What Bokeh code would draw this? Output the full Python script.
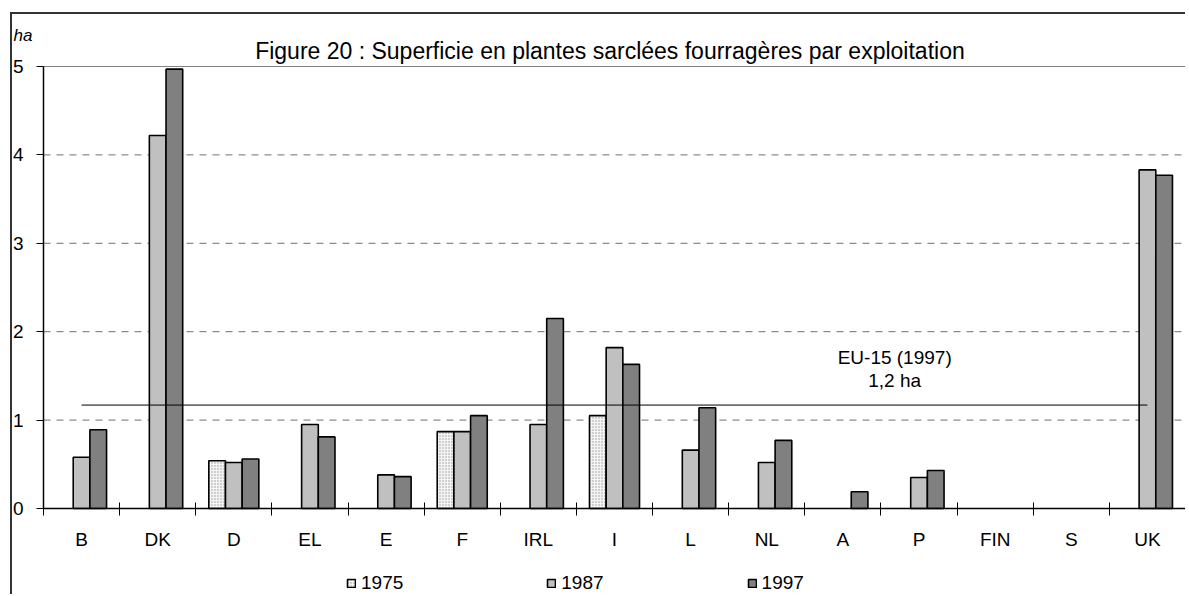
import numpy as np
from bokeh.plotting import figure
from bokeh.models import (FixedTicker, CustomJSTickFormatter, Legend, LegendItem,
                          Label, ColumnDataSource, Range1d)
from bokeh.core.properties import value
from bokeh.embed import file_html
from bokeh.resources import INLINE

categories = ["B", "DK", "D", "EL", "E", "F", "IRL", "I", "L", "NL", "A", "P", "FIN", "S", "UK"]
v1975 = [None, None, 0.54, None, None, 0.87, None, 1.05, None, None, None, None, None, None, None]
v1987 = [0.58, 4.22, 0.52, 0.95, 0.38, 0.87, 0.95, 1.82, 0.66, 0.52, None, 0.35, None, None, 3.83]
v1997 = [0.89, 4.97, 0.56, 0.81, 0.36, 1.05, 2.15, 1.63, 1.14, 0.77, 0.19, 0.43, None, None, 3.77]
series_names = ["1975", "1987", "1997"]
eu_value = 1.17
eu_label = ["EU-15 (1997)", "1,2 ha"]
y_ticks = [0, 1, 2, 3, 4, 5]
unit_label = "ha"
title_text = "Figure 20 : Superficie en plantes sarclées fourragères par exploitation"

FONT = "Liberation Sans"
FS = "19px"
BW = 0.219
N = len(categories)
YMAX = y_ticks[-1]

# the whole canvas is the plot frame; axes are pinned at 0 so that the title,
# unit label and legend can sit inside the frame
p = figure(width=1175, height=582, output_backend="svg", toolbar_location=None, title=None,
           x_range=Range1d(-0.407, N + 0.026), y_range=Range1d(-0.9955, YMAX + 0.588),
           min_border=0, min_border_left=0, min_border_right=0, min_border_top=0, min_border_bottom=0,
           background_fill_color="white", border_fill_color="white",
           outline_line_color=None,
           styles={"border-left": "2px solid #333", "border-top": "2px solid #333",
                   "margin-left": "10px", "margin-top": "12px"})

p.xgrid.grid_line_color = None
p.ygrid.grid_line_color = None

# dashed horizontal grid lines, limited to the plotting area
grid_y = y_ticks[1:-1]
p.segment(x0=[0] * len(grid_y), x1=[N] * len(grid_y), y0=grid_y, y1=grid_y,
          line_color="#707070", line_dash="7 6", line_width=1)
# plot-area border: top and right
p.segment(x0=[0, N], x1=[N, N], y0=[YMAX, 0], y1=[YMAX, YMAX],
          line_color="#808080", line_width=1)

# axes
p.xaxis.fixed_location = 0
p.xaxis.bounds = (0, N)
p.xaxis.ticker = FixedTicker(ticks=[i + 0.5 for i in range(N)], minor_ticks=list(range(N + 1)))
p.xaxis.formatter = CustomJSTickFormatter(args=dict(cats=categories),
                                          code="const c = cats[Math.floor(tick)]; return c ? c : '';")
p.xaxis.major_tick_in = 0
p.xaxis.major_tick_out = 0
p.xaxis.minor_tick_in = 6
p.xaxis.minor_tick_out = 7
p.xaxis.minor_tick_line_color = "black"
p.xaxis.axis_line_color = "black"
p.xaxis.axis_line_width = 1.5
p.xaxis.major_label_standoff = 14
p.xaxis.major_label_text_font = FONT
p.xaxis.major_label_text_font_size = FS
p.xaxis.major_label_text_color = "black"

p.yaxis.fixed_location = 0
p.yaxis.bounds = (0, YMAX)
p.yaxis.ticker = FixedTicker(ticks=y_ticks)
p.yaxis.major_tick_in = 0
p.yaxis.major_tick_out = 7
p.yaxis.minor_tick_line_color = None
p.yaxis.major_tick_line_color = "black"
p.yaxis.axis_line_color = "black"
p.yaxis.axis_line_width = 1.5
p.yaxis.major_label_standoff = 13
p.yaxis.major_label_text_font = FONT
p.yaxis.major_label_text_font_size = FS
p.yaxis.major_label_text_color = "black"

xs = np.arange(N) + 0.5
styles = [
    dict(fill_color="#f4f4f4", hatch_pattern=".", hatch_color="#9a9a9a", hatch_scale=3, hatch_weight=1),
    dict(fill_color="#c0c0c0"),
    dict(fill_color="#808080"),
]
renderers = []
for k, (vals, off) in enumerate(zip([v1975, v1987, v1997], [-BW, 0.0, BW])):
    xx = [x + off for x, v in zip(xs, vals) if v is not None]
    tt = [v for v in vals if v is not None]
    src = ColumnDataSource(dict(x=xx, top=tt))
    r = p.vbar(x="x", top="top", bottom=0, width=BW, source=src,
               line_color="black", line_width=1.6, **styles[k])
    renderers.append(r)

# EU-15 average line from first to last category centre
p.line(x=[xs[0], xs[-1]], y=[eu_value, eu_value], line_color="black", line_width=1)
p.text(x=[11.18, 11.18], y=[eu_value + 0.54, eu_value + 0.28], text=eu_label,
       text_font=value(FONT), text_font_size=FS, text_align="center",
       text_baseline="middle", text_color="black")

# title and unit label
p.add_layout(Label(x=7.44, y=YMAX + 0.17, text=title_text, text_align="center",
                   text_baseline="alphabetic", text_font=FONT, text_font_size="23px",
                   text_color="black"))
p.add_layout(Label(x=-0.394, y=YMAX + 0.35, text=unit_label, text_align="left",
                   text_baseline="alphabetic", text_font=FONT, text_font_size="17px",
                   text_font_style="italic", text_color="black"))

legend = Legend(items=[LegendItem(label=n, renderers=[r]) for n, r in zip(series_names, renderers)],
                orientation="horizontal", location=(334, 2),
                glyph_width=10, glyph_height=10, label_standoff=5, spacing=143,
                label_text_font=FONT, label_text_font_size=FS, label_text_color="black",
                label_height=16,
                border_line_color=None, background_fill_alpha=0, padding=2, margin=0)
p.add_layout(legend, "center")

open("out.html", "w").write(file_html(p, INLINE))
